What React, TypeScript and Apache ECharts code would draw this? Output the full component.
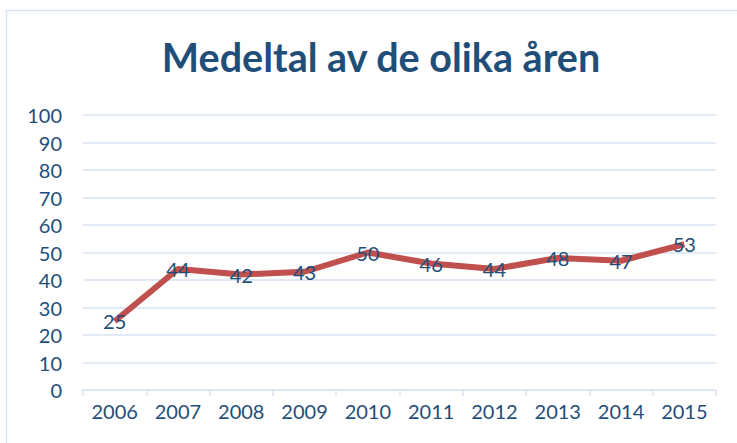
import React, { useEffect, useRef } from "react";
import * as echarts from "echarts";

const title = "Medeltal av de olika åren";
const years = ["2006", "2007", "2008", "2009", "2010", "2011", "2012", "2013", "2014", "2015"];
const values = [25, 44, 42, 43, 50, 46, 44, 48, 47, 53];

const textColor = "#1F4E79";
const gridColor = "#D9E4F2";
const lineColor = "#C0504D";

export default function App() {
  const ref = useRef<HTMLDivElement>(null);
  useEffect(() => {
    document.body.style.margin = "0";
    const chart = echarts.init(ref.current!, undefined, { renderer: "svg" });
    chart.setOption({
      animation: false,
      backgroundColor: "#ffffff",
      title: {
        text: title,
        left: 376,
        textAlign: "center",
        top: 31,
        textStyle: { fontFamily: "Lato", fontWeight: "bold", fontSize: 39.5, color: textColor },
      },
      graphic: [
        {
          type: "rect",
          shape: { x: 6.5, y: 10.5, width: 800, height: 500 },
          style: { fill: "none", stroke: gridColor, lineWidth: 1.5 },
          silent: true,
        },
      ],
      grid: { left: 83, right: 21, top: 115, bottom: 53 },
      xAxis: {
        type: "category",
        data: years,
        boundaryGap: true,
        axisLine: { show: true, lineStyle: { color: gridColor, width: 1.5 } },
        axisTick: { show: true, length: 6, lineStyle: { color: gridColor, width: 1.5 } },
        axisLabel: { color: textColor, fontFamily: "Lato", fontSize: 20, margin: 11 },
      },
      yAxis: {
        type: "value",
        min: 0,
        max: 100,
        interval: 10,
        axisLine: { show: false },
        axisTick: { show: false },
        axisLabel: { color: textColor, fontFamily: "Lato", fontSize: 20, margin: 21 },
        splitLine: { lineStyle: { color: gridColor, width: 1.5 } },
      },
      series: [
        {
          type: "line",
          data: values,
          symbol: "none",
          lineStyle: { color: lineColor, width: 6 },
          z: 2,
        },
        {
          type: "scatter",
          data: values,
          symbolSize: 1,
          itemStyle: { color: "rgba(0,0,0,0)", opacity: 1 },
          z: 3,
          label: {
            show: true,
            position: "inside",
            color: textColor,
            opacity: 1,
            textBorderWidth: 0,
            fontFamily: "Lato",
            fontSize: 20,
          },
        },
      ],
    });
    return () => chart.dispose();
  }, []);
  return <div ref={ref} style={{ width: 737, height: 443 }} />;
}
